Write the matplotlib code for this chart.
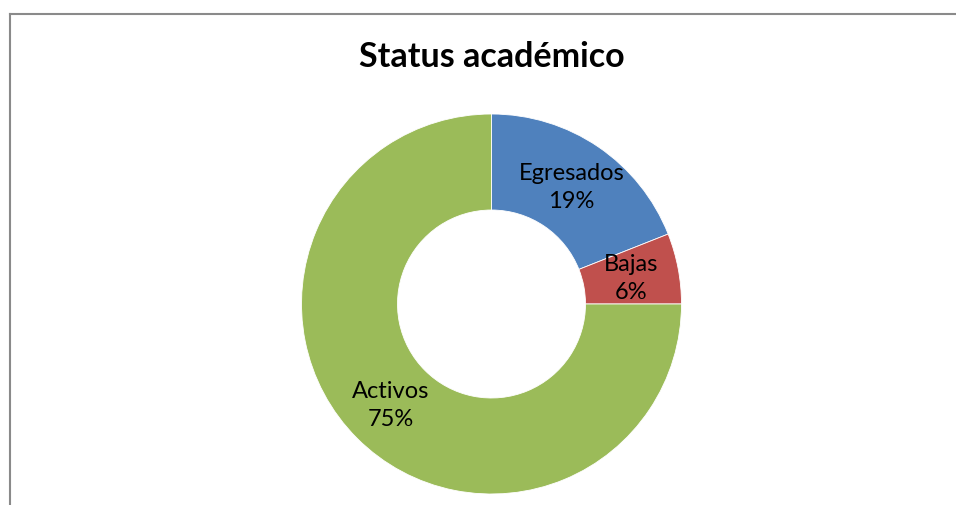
import numpy as np
import matplotlib
matplotlib.use("Agg")
import matplotlib.pyplot as plt
from matplotlib.lines import Line2D

categories = ["Egresados", "Bajas", "Activos"]
values = [19, 6, 75]
colors = ["#4F81BD", "#C0504D", "#9BBB59"]
title = "Status académico"

W, H = 956, 506
fig = plt.figure(figsize=(W / 100, H / 100), dpi=100)
ax = fig.add_axes([0, 0, 1, 1])

cx, cy, R, r_in = 491.5, H - 305, 190, 94
wedges, _ = ax.pie(values, colors=colors, startangle=90, counterclock=False,
                   center=(cx, cy), radius=R,
                   wedgeprops=dict(width=R - r_in, edgecolor="white", linewidth=0.6),
                   frame=True)
ax.set_xlim(0, W)
ax.set_ylim(0, H)
ax.set_aspect("auto")
ax.axis("off")

total = sum(values)
rl = (R + r_in) / 2
for w, name, v in zip(wedges, categories, values):
    ang = np.deg2rad((w.theta1 + w.theta2) / 2)
    x = cx + rl * np.cos(ang)
    y = cy + rl * np.sin(ang)
    ax.text(x, y, f"{name}\n{round(100 * v / total)}%", ha="center", va="center",
            fontsize=17, family="Lato", color="black", linespacing=1.4)

fig.text(491.5 / W, 1 - 67 / H, title, ha="center", va="baseline",
         fontsize=24.5, fontweight="bold", family="Lato")

# chart-area border (left and top edges visible)
fig.add_artist(Line2D([10, 10], [-5, H - 15], transform=None,
                      color="#8a8a8a", linewidth=1.5))
fig.add_artist(Line2D([10, W + 5], [H - 15, H - 15], transform=None,
                      color="#8a8a8a", linewidth=1.5))

fig.savefig("out.png", dpi=100)
